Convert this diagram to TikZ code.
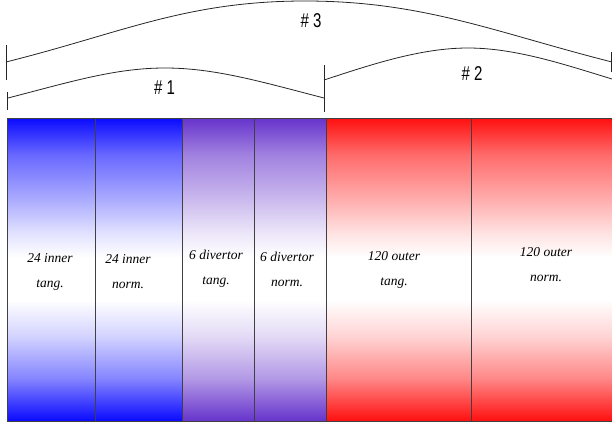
\documentclass[tikz,border=0pt]{standalone}
\usepackage{fontspec}
\usepackage{tikz}
\usetikzlibrary{positioning}
\newfontfamily\coilfont{Liberation Serif}
\newfontfamily\bracefont{Liberation Sans}
\definecolor{coilblue}{RGB}{10,10,255}
\definecolor{coilpurple}{RGB}{102,51,204}
\definecolor{coilred}{RGB}{255,15,15}
\colorlet{coilc}{coilblue}
\pgfdeclareverticalshading[coilc]{coilshade}{100bp}{color(0bp)=(coilc); color(25bp)=(coilc);
	color(32bp)=(coilc!50!white); color(39bp)=(coilc!18!white); color(45bp)=(white); color(52bp)=(white);
	color(56bp)=(coilc!12!white); color(61bp)=(coilc!32!white); color(69bp)=(coilc!62!white);
	color(75bp)=(coilc); color(100bp)=(coilc)}

\begin{document}
\begin{tikzpicture}[x=1pt, y=-1pt,
	coil/.style={draw=black!75, line width=0.6pt, minimum height=303pt, inner sep=0pt, outer sep=0pt, anchor=north west,
		/utils/exec={\colorlet{coilc}{#1}}, shading=coilshade},
	coiltext/.style={align=center, font=\coilfont\itshape\fontsize{13.5}{25}\selectfont, inner sep=0pt},
	brace/.style={line width=0.8pt, black!85},
	bracetext/.style={font=\bracefont\fontsize{20}{20}\selectfont, inner sep=0pt}]

	\useasboundingbox (0,0) rectangle (612,423);

	% coil groups
	\node[coil=coilblue, minimum width=88pt] (c1) at (7,118) {};
	\node[coil=coilblue, minimum width=87pt] (c2) at (c1.north east) {};
	\node[coil=coilpurple, minimum width=72pt] (c3) at (c2.north east) {};
	\node[coil=coilpurple, minimum width=72pt] (c4) at (c3.north east) {};
	\node[coil=coilred, minimum width=145pt] (c5) at (c4.north east) {};
	\node[coil=coilred, minimum width=145pt] (c6) at (c5.north east) {};

	\node[coiltext] (t1) at (50,272) {24 inner\\tang.};
	\node[coiltext] (t2) at (128,272) {24 inner\\norm.};
	\node[coiltext] (t3) at (216,269) {6 divertor\\tang.};
	\node[coiltext] (t4) at (287,269) {6 divertor\\norm.};
	\node[coiltext] (t5) at (394,270) {120 outer\\tang.};
	\node[coiltext] (t6) at (546,265) {120 outer\\norm.};

	% braces
	\coordinate (b1l) at (8,98);
	\coordinate (b1m) at (165,68);
	\coordinate (b1r) at (324,98);
	\coordinate (b2l) at (324,80);
	\coordinate (b2m) at (468,48);
	\coordinate (b2r) at (612,79);
	\coordinate (b3l) at (6,62);
	\coordinate (b3m) at (305,1);
	\coordinate (b3r) at (612,62);

	\draw[brace] (b1l) .. controls (70,82) and (115,68) .. (b1m) .. controls (215,68) and (262,82) .. (b1r);
	\draw[brace] (b2l) .. controls (370,65) and (420,48) .. (b2m) .. controls (516,48) and (566,65) .. (b2r);
	\draw[brace] (b3l) .. controls (122,33) and (186,1) .. (b3m) .. controls (424,1) and (497,33) .. (b3r);

	\draw[brace] (6,45) -- (6,80);
	\draw[brace] (7,92) -- (7,110);
	\draw[brace] (324,65) -- (324,112);
	\draw[brace] (611,52) -- (611,72);

	\node[bracetext] (n1) at (164.5,87.5) {\scalebox{0.75}[1]{\# 1}};
	\node[bracetext] (n2) at (472,73.5) {\scalebox{0.75}[1]{\# 2}};
	\node[bracetext] (n3) at (311,21) {\scalebox{0.75}[1]{\# 3}};

\end{tikzpicture}
\end{document}
